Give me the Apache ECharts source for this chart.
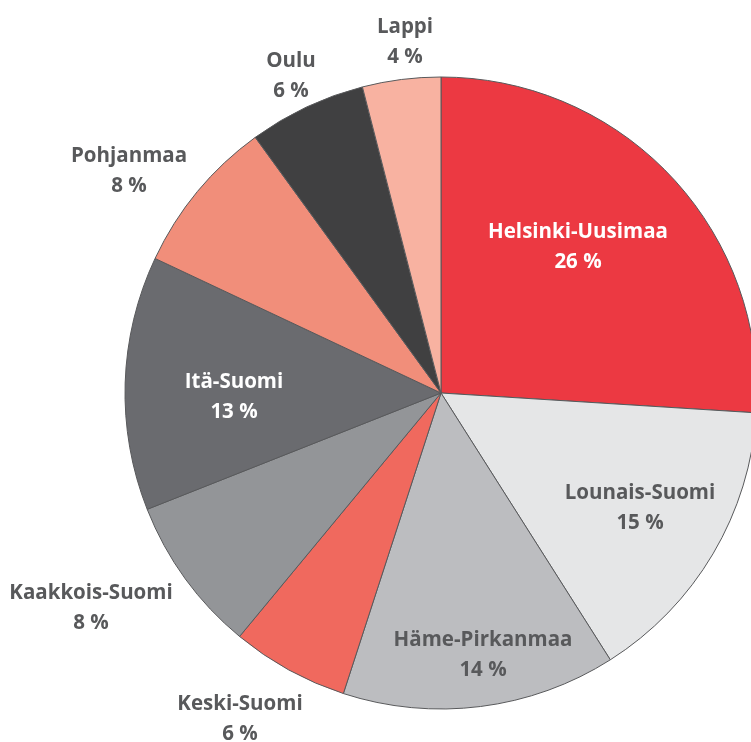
<!DOCTYPE html>
<html>
<head>
	<meta charset="UTF-8" />
	<title>Alueet</title>
	<style>
		html, body { margin: 0; padding: 0; background: #fff; }
		#chart { width: 751px; height: 742px; }
	</style>
	<script type="text/javascript" src="https://cdn.jsdelivr.net/npm/echarts@6/dist/echarts.min.js"></script>
</head>
<body>
	<div id="chart"></div>
	<script>
		// alueet ja osuudet (%)
		var regions = ["Helsinki-Uusimaa", "Lounais-Suomi", "Häme-Pirkanmaa", "Keski-Suomi",
			"Kaakkois-Suomi", "Itä-Suomi", "Pohjanmaa", "Oulu", "Lappi"];
		var shares = [26, 15, 14, 6, 8, 13, 8, 6, 4];

		// värit
		var colors = ["#ec3942", "#e5e6e7", "#bcbdc0", "#f0695e", "#939598",
			"#6a6b6f", "#f18e7a", "#404041", "#f8b2a1"];
		var labelColors = ["#fff", "#58595b", "#58595b", "#58595b", "#58595b",
			"#fff", "#58595b", "#58595b", "#58595b"];
		// tekstien paikat
		var labelPos = [[578, 247], [640, 508], [483, 655], [240, 719], [91, 608],
			[234, 397], [129, 171], [291, 76], [405, 42]];

		var myChart = echarts.init(document.getElementById("chart"));

		var data = regions.map(function (name, i) {
			return {
				name: name,
				value: shares[i],
				itemStyle: { color: colors[i] },
				label: { color: labelColors[i] }
			};
		});

		myChart.setOption({
			animation: false,
			series: [{
				type: "pie",
				center: [441, 393],
				radius: 316,
				startAngle: 90,
				clockwise: true,
				avoidLabelOverlap: false,
				itemStyle: { borderColor: "#58595b", borderWidth: 1 },
				label: {
					show: true,
					position: "outside",
					formatter: "{b}\n{c} %",
					fontFamily: "Open Sans",
					fontWeight: "bold",
					fontSize: 20.5,
					lineHeight: 30,
					align: "center"
				},
				labelLine: { show: false },
				labelLayout: function (p) {
					var pos = labelPos[p.dataIndex];
					return { x: pos[0], y: pos[1], align: "center", verticalAlign: "middle" };
				},
				emphasis: { disabled: true },
				data: data
			}]
		});
	</script>
</body>
</html>
